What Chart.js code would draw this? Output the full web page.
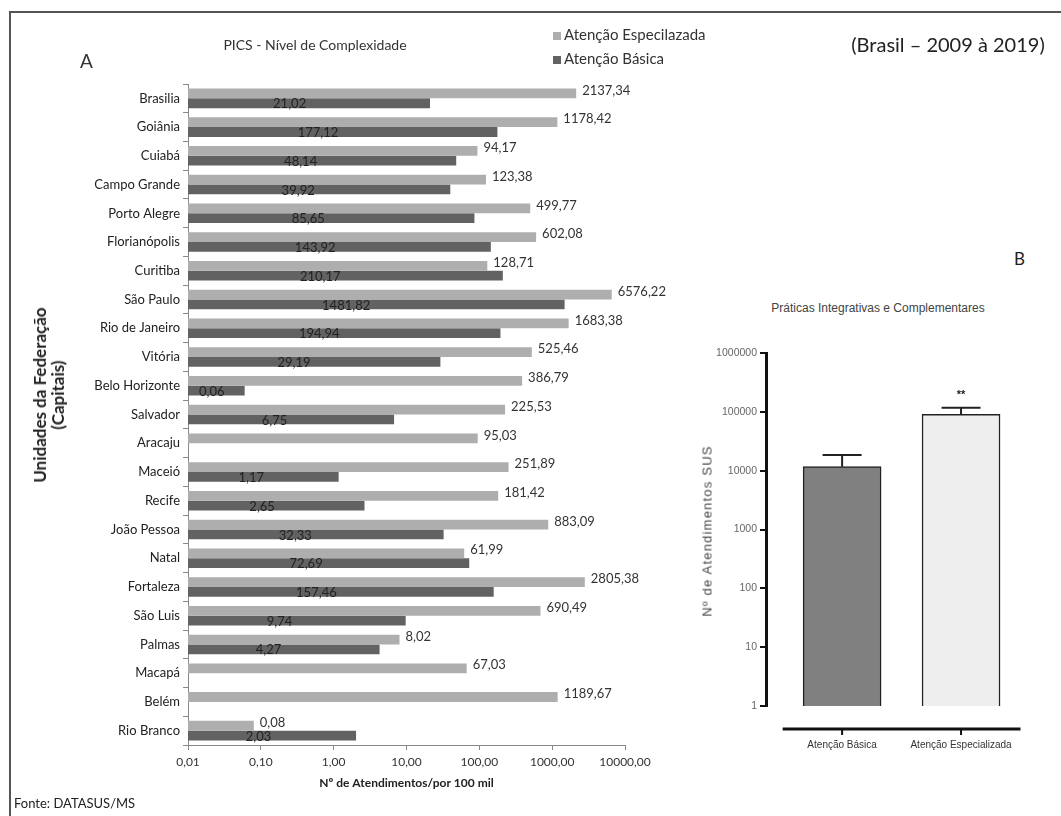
<!DOCTYPE html>
<html lang="pt">
  <head>
    <meta charset="UTF-8" />
    <title>PICS - Nível de Complexidade</title>
    <script src="https://cdn.jsdelivr.net/npm/chart.js@4/dist/chart.umd.min.js"></script>
    <style>
      body {
        margin: 0;
        width: 1061px;
        height: 816px;
        position: relative;
        overflow: hidden;
        background: #fff;
        font-family: Lato, "Liberation Sans", sans-serif;
        color: #222;
      }
      .abs {
        position: absolute;
        white-space: nowrap;
      }
      #frame {
        left: 9px;
        top: 11px;
        width: 1060px;
        height: 810px;
        border-left: 2px solid #555;
        border-top: 2px solid #555;
      }
      .sw {
        display: inline-block;
        width: 8px;
        height: 8px;
        margin-right: 3px;
      }
    </style>
  </head>

  <body>
    <div id="frame" class="abs"></div>

    <canvas id="chartA" class="abs" width="680" height="816" style="left:0;top:0"></canvas>
    <canvas id="chartB" class="abs" width="371" height="440" style="left:690px;top:330px"></canvas>

    <div class="abs" style="left:80px;top:49px;font-size:19px;color:#333">A</div>
    <div class="abs" style="left:315px;top:44px;transform:translate(-50%,-50%);font-size:14px;color:#333">PICS - Nível de Complexidade</div>
    <div class="abs" style="left:553px;top:26px;font-size:15px;line-height:16px;color:#333">
      <span class="sw" style="background:#aeaeae"></span>Atenção Especilazada
    </div>
    <div class="abs" style="left:553px;top:50px;font-size:15px;line-height:16px;color:#333">
      <span class="sw" style="background:#626262"></span>Atenção Básica
    </div>
    <div class="abs" style="left:948px;top:44px;transform:translate(-50%,-50%);font-size:20px;color:#222">(Brasil – 2009 à 2019)</div>
    <div class="abs" style="left:49px;top:395px;transform:translate(-50%,-50%) rotate(-90deg);font-size:17px;font-weight:bold;line-height:18px;text-align:center;color:#222">
      Unidades da Federação<br />(Capitais)
    </div>
    <div class="abs" style="left:14px;top:795px;font-size:13px;color:#222">Fonte: DATASUS/MS</div>

    <div class="abs" style="left:1014px;top:248px;font-size:17px;color:#222">B</div>
    <div class="abs" style="left:878px;top:308px;transform:translate(-50%,-50%);font-family:'Liberation Sans',sans-serif;font-size:12px;color:#444">Práticas Integrativas e Complementares</div>
    <div class="abs" style="left:707px;top:531px;transform:translate(-50%,-50%) rotate(-90deg);font-family:'Liberation Sans',sans-serif;font-size:13px;letter-spacing:1.2px;color:#444">Nº de Atendimentos SUS</div>
  </body>

  <script>
    // painel A - capitais
    const capitais = [
      "Brasilia", "Goiânia", "Cuiabá", "Campo Grande", "Porto Alegre",
      "Florianópolis", "Curitiba", "São Paulo", "Rio de Janeiro", "Vitória",
      "Belo Horizonte", "Salvador", "Aracaju", "Maceió", "Recife",
      "João Pessoa", "Natal", "Fortaleza", "São Luis", "Palmas",
      "Macapá", "Belém", "Rio Branco",
    ];
    const especializada = [
      2137.34, 1178.42, 94.17, 123.38, 499.77,
      602.08, 128.71, 6576.22, 1683.38, 525.46,
      386.79, 225.53, 95.03, 251.89, 181.42,
      883.09, 61.99, 2805.38, 690.49, 8.02,
      67.03, 1189.67, 0.08,
    ];
    const basica = [
      21.02, 177.12, 48.14, 39.92, 85.65,
      143.92, 210.17, 1481.82, 194.94, 29.19,
      0.06, 6.75, null, 1.17, 2.65,
      32.33, 72.69, 157.46, 9.74, 4.27,
      null, null, 2.03,
    ];
    const ticksA = [0.01, 0.1, 1, 10, 100, 1000, 10000];

    // painel B - total
    const categoriasB = ["Atenção Básica", "Atenção Especializada"];
    const totaisB = [11700, 90300];
    const erroSupB = [18400, 117000];
    const ticksB = [1, 10, 100, 1000, 10000, 100000, 1000000];

    const fmt = (v) => v.toFixed(2).replace(".", ",");

    // rotulos das barras (estilo excel)
    const barLabels = {
      id: "barLabels",
      afterDatasetsDraw(chart) {
        const ctx = chart.ctx;
        ctx.save();
        ctx.font = "13px Lato";
        ctx.fillStyle = "#333";
        ctx.textBaseline = "middle";
        chart.getDatasetMeta(0).data.forEach((el, i) => {
          const v = especializada[i];
          if (v == null) return;
          ctx.textAlign = "left";
          ctx.fillText(fmt(v), el.x + 6, el.y - 3);
        });
        ctx.fillStyle = "#222";
        chart.getDatasetMeta(1).data.forEach((el, i) => {
          const v = basica[i];
          if (v == null) return;
          ctx.textAlign = "center";
          ctx.fillText(fmt(v), el.base + 0.42 * (el.x - el.base), el.y + 1);
        });
        ctx.restore();
      },
    };

    new Chart(document.getElementById("chartA"), {
      type: "bar",
      data: {
        labels: capitais,
        datasets: [
          {
            label: "Atenção Especilazada",
            data: especializada,
            backgroundColor: "#aeaeae",
            categoryPercentage: 0.68,
            barPercentage: 1,
          },
          {
            label: "Atenção Básica",
            data: basica,
            backgroundColor: "#626262",
            categoryPercentage: 0.68,
            barPercentage: 1,
          },
        ],
      },
      options: {
        indexAxis: "y",
        responsive: false,
        animation: false,
        layout: { padding: { top: 84, right: 55, bottom: 0, left: 0 } },
        plugins: { legend: { display: false }, tooltip: { enabled: false } },
        scales: {
          x: {
            type: "logarithmic",
            min: 0.01,
            max: 10000,
            afterBuildTicks: (s) => {
              s.ticks = ticksA.map((v) => ({ value: v }));
            },
            ticks: {
              callback: (v) => fmt(v),
              font: { family: "Lato", size: 12 },
              color: "#333",
              padding: 5,
              maxRotation: 0,
            },
            grid: { drawOnChartArea: false, tickLength: 5, color: "#888" },
            border: { color: "#888" },
            title: {
              display: true,
              text: "Nº de Atendimentos/por 100 mil",
              font: { family: "Lato", size: 12, weight: "bold" },
              color: "#222",
              padding: { top: 0, bottom: 26 },
            },
            afterFit: (s) => {
              s.height = 71;
            },
          },
          y: {
            ticks: {
              font: { family: "Lato", size: 13 },
              color: "#222",
              padding: 3,
              autoSkip: false,
            },
            grid: { drawOnChartArea: false, tickLength: 5, color: "#888", offset: true },
            border: { color: "#888" },
            afterFit: (s) => {
              s.width = 188;
            },
          },
        },
      },
      plugins: [barLabels],
    });

    // eixo x deslocado + barras de erro (estilo prism)
    const prismExtras = {
      id: "prismExtras",
      afterDatasetsDraw(chart) {
        const ctx = chart.ctx;
        const xs = chart.scales.x;
        const ys = chart.scales.y;
        const axisY = chart.chartArea.bottom + 23;
        ctx.save();
        ctx.strokeStyle = "#111";
        ctx.lineWidth = 3;
        ctx.beginPath();
        ctx.moveTo(xs.getPixelForValue(-0.5), axisY);
        ctx.lineTo(xs.getPixelForValue(1.5), axisY);
        ctx.stroke();
        ctx.lineWidth = 2;
        categoriasB.forEach((c, i) => {
          const x = xs.getPixelForValue(i);
          ctx.beginPath();
          ctx.moveTo(x, axisY);
          ctx.lineTo(x, axisY + 6);
          ctx.stroke();
        });
        ctx.strokeStyle = "#222";
        totaisB.forEach((v, i) => {
          const x = xs.getPixelForValue(i);
          const y0 = ys.getPixelForValue(v);
          const y1 = ys.getPixelForValue(erroSupB[i]);
          ctx.beginPath();
          ctx.moveTo(x, y0);
          ctx.lineTo(x, y1);
          ctx.moveTo(x - 19.5, y1);
          ctx.lineTo(x + 19.5, y1);
          ctx.stroke();
        });
        const xe = xs.getPixelForValue(1);
        ctx.fillStyle = "#222";
        ctx.font = "bold 11px 'Liberation Sans'";
        ctx.textAlign = "center";
        ctx.textBaseline = "middle";
        ctx.fillText("**", xe, ys.getPixelForValue(erroSupB[1]) - 13);
        ctx.restore();
      },
    };

    new Chart(document.getElementById("chartB"), {
      type: "bar",
      data: {
        datasets: [
          {
            label: "PICS",
            data: totaisB.map((v, i) => ({ x: i, y: v })),
            backgroundColor: ["#808080", "#eeeeee"],
            borderColor: "#222",
            borderWidth: 1.5,
            barThickness: 78,
          },
        ],
      },
      options: {
        responsive: false,
        animation: false,
        layout: { padding: { top: 23, right: 40.5, bottom: 0, left: 0 } },
        plugins: { legend: { display: false }, tooltip: { enabled: false } },
        scales: {
          x: {
            type: "linear",
            offset: false,
            min: -0.64,
            max: 1.5,
            afterBuildTicks: (s) => {
              s.ticks = categoriasB.map((c, i) => ({ value: i }));
            },
            ticks: {
              callback: (v) => categoriasB[v],
              font: { family: "Liberation Sans", size: 10 },
              color: "#333",
              padding: 33,
              maxRotation: 0,
              autoSkip: false,
            },
            grid: { display: false, drawTicks: false },
            border: { display: false },
            afterFit: (s) => {
              s.height = 64;
            },
          },
          y: {
            type: "logarithmic",
            min: 1,
            max: 1000000,
            afterBuildTicks: (s) => {
              s.ticks = ticksB.map((v) => ({ value: v }));
            },
            ticks: {
              callback: (v) => String(v),
              font: { family: "Liberation Sans", size: 10.5 },
              color: "#666",
              padding: 3,
            },
            grid: { drawOnChartArea: false, tickLength: 6, lineWidth: 2, color: "#111" },
            border: { width: 3, color: "#111" },
            afterFit: (s) => {
              s.width = 76;
            },
          },
        },
      },
      plugins: [prismExtras],
    });
  </script>
</html>
